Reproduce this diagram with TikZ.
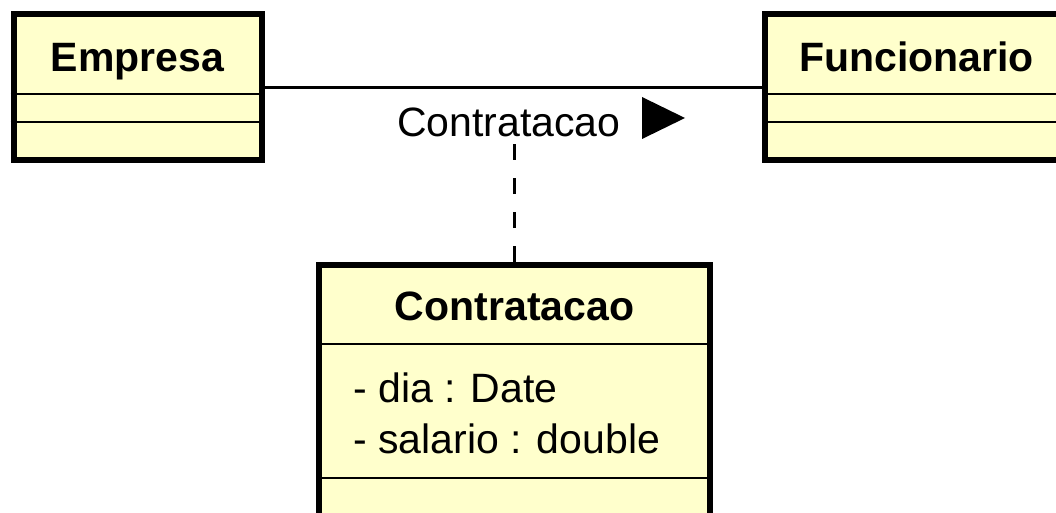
\documentclass[tikz,border=0pt]{standalone}
\usepackage{fontspec}
\setmainfont{Liberation Sans}
\definecolor{umlfill}{RGB}{255,255,204}
\begin{document}
\begin{tikzpicture}[x=1pt,y=-1pt,
  cls/.style={draw=black, line width=6pt, fill=umlfill, inner sep=0pt},
  div/.style={line width=2.8pt},
  ttl/.style={font=\fontsize{41}{49}\selectfont\bfseries, anchor=base, inner sep=0pt},
  txt/.style={font=\fontsize{41}{49}\selectfont, inner sep=0pt, anchor=base west},
  assoc/.style={line width=3pt},
  dashline/.style={line width=3pt, dash pattern=on 16pt off 18pt}]
\useasboundingbox (0,0) rectangle (1056,513);
\clip (0,0) rectangle (1056,513);
% class boxes
\node[cls, minimum width=248pt, minimum height=146.5pt] (emp) at (137.5,87.25) {};
\node[cls, minimum width=303pt, minimum height=146.5pt] (fun) at (916.5,87.25) {};
\node[cls, minimum width=391pt, minimum height=270pt] (ctr) at (514.5,400) {};
% dividers
\draw[div] (emp.west |- 0,94) -- (emp.east |- 0,94);
\draw[div] (emp.west |- 0,122) -- (emp.east |- 0,122);
\draw[div] (fun.west |- 0,94) -- (fun.east |- 0,94);
\draw[div] (fun.west |- 0,122) -- (fun.east |- 0,122);
\draw[div] (ctr.west |- 0,344) -- (ctr.east |- 0,344);
\draw[div] (ctr.west |- 0,478) -- (ctr.east |- 0,478);
% titles
\node[ttl] (empT) at (137.5,71.7) {Empresa};
\node[ttl] (funT) at (916.5,71.7) {Funcionario};
\node[ttl] (ctrT) at (514.5,320) {Contratacao};
% attributes
\node[txt] (a1) at (353,402) {- dia : Date};
\node[txt] (a2) at (353,453) {- salario : double};
% association
\draw[assoc] (emp.east) -- (fun.west);
\node[txt] (lbl) at (397,137) {Contratacao};
\fill (642,97) -- (685,118) -- (642,139) -- cycle;
\draw[dashline] (ctr.north) -- (ctr.north |- lbl.south);
\end{tikzpicture}
\end{document}
